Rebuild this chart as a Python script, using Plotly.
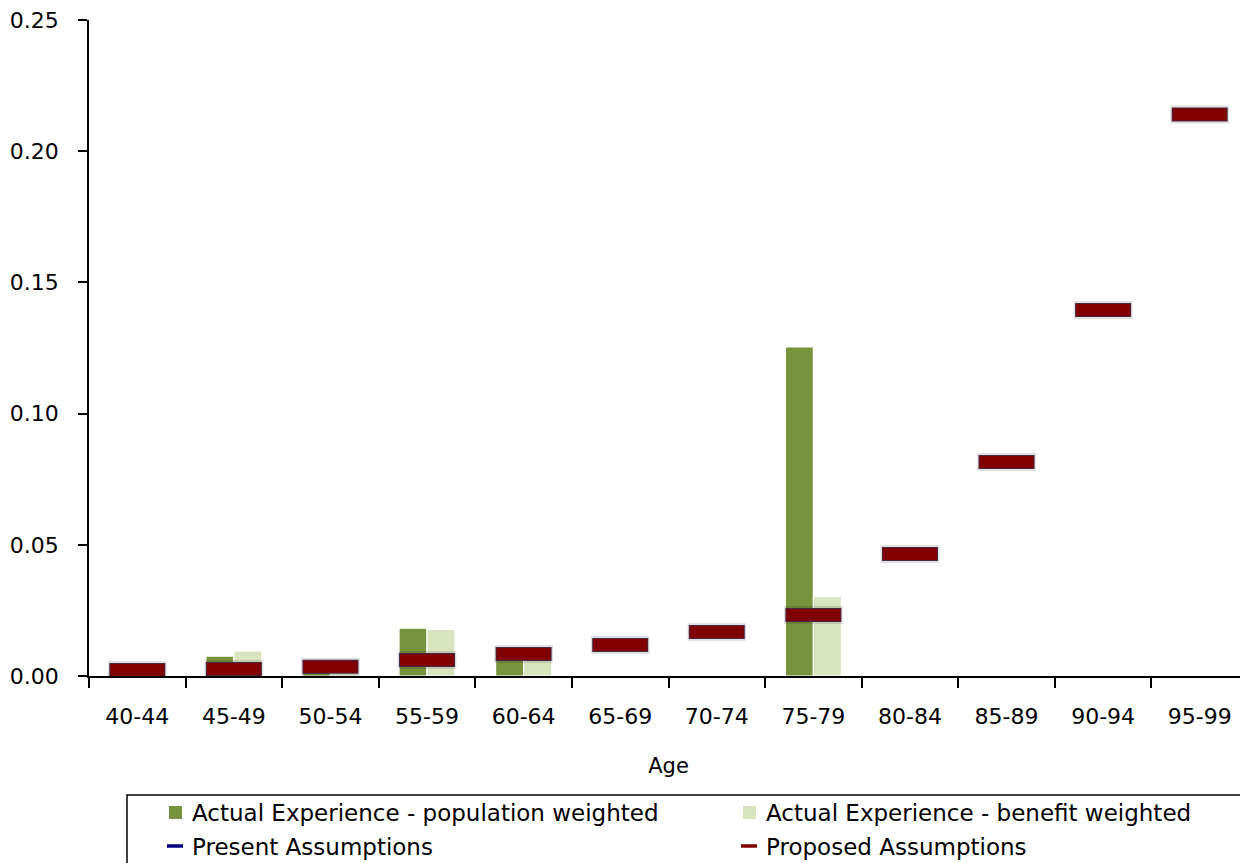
import plotly.graph_objects as go

ages = ["40-44", "45-49", "50-54", "55-59", "60-64", "65-69", "70-74",
        "75-79", "80-84", "85-89", "90-94", "95-99"]
actual_population = [0.0, 0.0076, 0.002, 0.0182, 0.011, None, None, 0.1254, None, None, None, None]
actual_benefit = [0.0, 0.0096, 0.001, 0.0178, 0.010, None, None, 0.0302, None, None, None, None]
present_assumptions = [0.0023, 0.0027, 0.0035, 0.0061, 0.0084, 0.0118, 0.0168,
                       0.0232, 0.0465, 0.0816, 0.1395, 0.2140]
proposed_assumptions = [0.0023, 0.0027, 0.0035, 0.0061, 0.0084, 0.0118, 0.0168,
                        0.0232, 0.0465, 0.0816, 0.1395, 0.2140]
y_ticks = [0, 0.05, 0.10, 0.15, 0.20, 0.25]
y_ticktext = ["0.00", "0.05", "0.10", "0.15", "0.20", "0.25"]

legend_labels = ["Actual Experience - population weighted",
                 "Actual Experience - benefit weighted",
                 "Present Assumptions", "Proposed Assumptions"]

FONT = "DejaVu Sans"
DARK_GREEN = "#77933C"
LIGHT_GREEN = "#D7E4BD"
BLUE = "#000080"
RED = "#800000"

# page has an 8px body margin; figure sized so it ends at the window edge
W, H = 1240, 855
OFF = 8
PX0, PX1, PY0, PY1 = 89, 1248, 20, 676  # plot area in screen pixels


def px(sx):
    return (sx - PX0) / (PX1 - PX0)


def py(sy):
    return (PY1 - sy) / (PY1 - PY0)


fig = go.Figure()
fig.add_trace(go.Bar(
    x=ages, y=actual_population, name=legend_labels[0], showlegend=False,
    marker=dict(color=DARK_GREEN, line=dict(color="#FFFFFF", width=1.2)),
))
fig.add_trace(go.Bar(
    x=ages, y=actual_benefit, name=legend_labels[1], showlegend=False,
    marker=dict(color=LIGHT_GREEN, line=dict(color="#FFFFFF", width=1.2)),
))
fig.add_trace(go.Scatter(
    x=ages, y=present_assumptions, name=legend_labels[2], mode="markers", showlegend=False,
    marker=dict(symbol="line-ew", size=39, line=dict(color=BLUE, width=12)),
))
# soft shadow + thin outline under the proposed marks
fig.add_trace(go.Scatter(
    x=ages, y=proposed_assumptions, mode="markers", showlegend=False, hoverinfo="skip",
    marker=dict(symbol="line-ew", size=42, line=dict(color="rgba(0,0,0,0.12)", width=18)),
))
fig.add_trace(go.Scatter(
    x=ages, y=proposed_assumptions, mode="markers", showlegend=False, hoverinfo="skip",
    marker=dict(symbol="line-ew", size=40, line=dict(color="#4A2848", width=14)),
))
fig.add_trace(go.Scatter(
    x=ages, y=proposed_assumptions, name=legend_labels[3], mode="markers", showlegend=False,
    marker=dict(symbol="line-ew", size=38.6, line=dict(color=RED, width=12)),
))

shapes = []
annotations = []
# legend box (right and bottom edges fall outside the window)
shapes.append(dict(type="rect", xref="paper", yref="paper",
                   x0=px(127), x1=px(1262), y0=py(795), y1=py(880),
                   line=dict(color="black", width=1.5), fillcolor="white", layer="above"))
# legend symbols
shapes.append(dict(type="rect", xref="paper", yref="paper",
                   x0=px(169), x1=px(182), y0=py(819), y1=py(806),
                   line=dict(width=0), fillcolor=DARK_GREEN))
shapes.append(dict(type="rect", xref="paper", yref="paper",
                   x0=px(743), x1=px(756), y0=py(819), y1=py(806),
                   line=dict(width=0), fillcolor=LIGHT_GREEN))
shapes.append(dict(type="line", xref="paper", yref="paper",
                   x0=px(167), x1=px(183), y0=py(846), y1=py(846),
                   line=dict(color=BLUE, width=3.5)))
shapes.append(dict(type="line", xref="paper", yref="paper",
                   x0=px(741), x1=px(757), y0=py(846), y1=py(846),
                   line=dict(color=RED, width=3.5)))
for label, sx, sy in [(legend_labels[0], 190, 813), (legend_labels[1], 764, 813),
                      (legend_labels[2], 190, 847), (legend_labels[3], 764, 847)]:
    annotations.append(dict(text=label, xref="paper", yref="paper", x=px(sx), y=py(sy),
                            xanchor="left", yanchor="middle", showarrow=False,
                            font=dict(family=FONT, size=23, color="black")))

fig.update_layout(
    width=W, height=H,
    margin=dict(l=PX0 - OFF, r=0, t=PY0 - OFF, b=H - (PY1 - OFF), autoexpand=False),
    paper_bgcolor="white", plot_bgcolor="white",
    font=dict(family=FONT, size=22, color="black"),
    barmode="group", bargap=0.42, bargroupgap=0.0,
    showlegend=False,
    shapes=shapes, annotations=annotations,
    xaxis=dict(
        range=[-0.5, len(ages) - 0.5],
        title=dict(text="Age", standoff=30, font=dict(size=21)),
        showline=True, linecolor="black", linewidth=1.8,
        ticks="outside", ticklen=10, tickwidth=1.8, tickcolor="black", tickson="boundaries",
        ticklabelstandoff=20,
        showgrid=False, zeroline=False, automargin=False,
    ),
    yaxis=dict(
        range=[0, 0.25], tickvals=y_ticks, ticktext=y_ticktext,
        showline=True, linecolor="black", linewidth=1.8,
        ticks="outside", ticklen=9, tickwidth=1.8, tickcolor="black",
        ticklabelstandoff=15, ticklabeloverflow="allow",
        showgrid=False, zeroline=False, automargin=False,
    ),
)

fig.write_html("out.html")
